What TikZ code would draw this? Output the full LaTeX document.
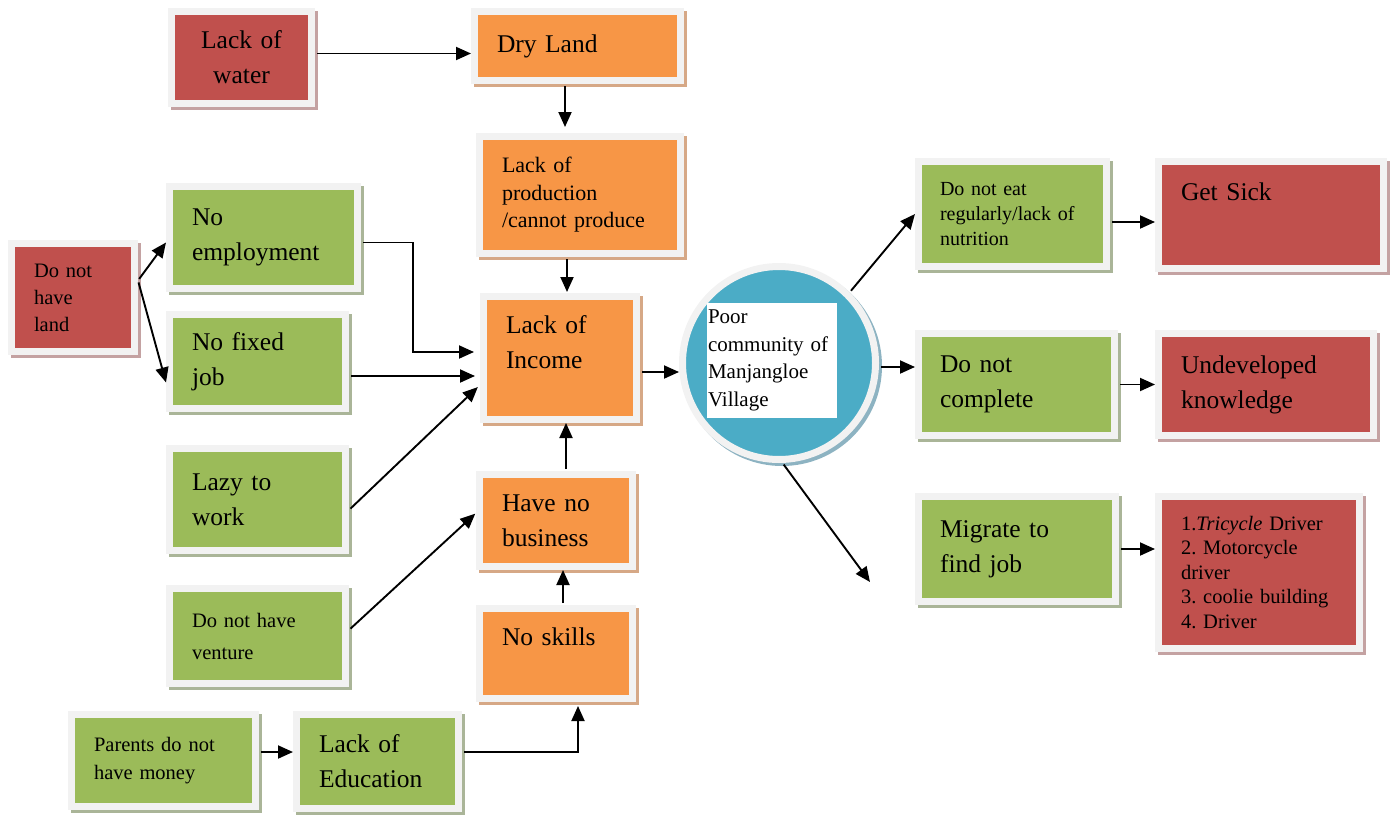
\documentclass[tikz,border=0pt]{standalone}
\usepackage{fontspec}
\setmainfont{Liberation Serif}
\usetikzlibrary{arrows.meta, positioning, calc}
\frenchspacing

\definecolor{boxred}{HTML}{C0504D}
\definecolor{boxgreen}{HTML}{9BBB59}
\definecolor{boxorange}{HTML}{F79646}
\definecolor{boxblue}{HTML}{4BACC6}
\definecolor{frame}{HTML}{F2F2F2}
\definecolor{shred}{HTML}{C4A2A2}
\definecolor{shgreen}{HTML}{AAB598}
\definecolor{shorange}{HTML}{D6A886}
\definecolor{shblue}{HTML}{8DB3C2}

\tikzset{
    box/.style={rectangle, draw=frame, line width=7pt, inner sep=0pt, align=left},
    rbox/.style={box, fill=boxred, preaction={draw=shred, line width=7pt, transform canvas={shift={(3pt,-3pt)}}}},
    gbox/.style={box, fill=boxgreen, preaction={draw=shgreen, line width=7pt, transform canvas={shift={(3pt,-3pt)}}}},
    obox/.style={box, fill=boxorange, preaction={draw=shorange, line width=7pt, transform canvas={shift={(3pt,-3pt)}}}},
    big/.style={font=\fontsize{25.5}{35}\selectfont},
    small/.style={font=\fontsize{20.5}{27}\selectfont},
    link/.style={line width=1.9pt, shorten <=2pt, -{Triangle[length=15pt,width=13pt]}},
}

\begin{document}
\begin{tikzpicture}[x=1pt, y=-1pt]
    \useasboundingbox (0,0) rectangle (1394,816);

    % causes
    \node[rbox, big, align=center, text width=113pt, minimum width=140pt, minimum height=92pt] (water) at (241.5,57.5) {Lack of\\water};
    \node[obox, big, text width=161pt, minimum width=206pt, minimum height=69pt] (dry) at (577.5,46) {Dry Land};
    \node[obox, font=\fontsize{22}{27.5}\selectfont, text width=156pt, minimum width=201pt, minimum height=117pt] (prod) at (580,195) {Lack of\\production\\/cannot produce};
    \node[rbox, small, text width=78pt, minimum width=123pt, minimum height=108pt] (land) at (73,297.5) {Do not\\have\\land};
    \node[gbox, big, text width=143pt, minimum width=188pt, minimum height=102pt] (noemp) at (263.5,237.5) {No\\employment};
    \node[gbox, big, text width=131pt, minimum width=176pt, minimum height=94pt] (nofix) at (257.5,361.5) {No fixed\\job};
    \node[obox, big, text width=108pt, minimum width=153pt, minimum height=123pt] (income) at (560,358) {Lack of\\Income\\[-4pt]\mbox{}};
    \node[gbox, big, text width=131pt, minimum width=176pt, minimum height=102pt] (lazy) at (257.5,499.5) {Lazy to\\work};
    \node[obox, big, text width=108pt, minimum width=153pt, minimum height=92pt] (business) at (556,520.5) {Have no\\business};
    \node[gbox, font=\fontsize{20.5}{32}\selectfont, text width=131pt, minimum width=176pt, minimum height=95pt] (venture) at (257.5,636) {Do not have\\venture};
    \node[obox, big, text width=108pt, minimum width=153pt, minimum height=90pt] (skills) at (556,653.5) {No skills\\[-2pt]\mbox{}};
    \node[gbox, font=\fontsize{20.5}{28}\selectfont, text width=139pt, minimum width=184pt, minimum height=92pt] (parents) at (163.5,760.5) {Parents do not\\have money};
    \node[gbox, big, text width=117pt, minimum width=162pt, minimum height=94pt] (edu) at (377.5,761.5) {Lack of\\Education};

    % centre
    \node[circle, fill=boxblue, draw=frame, line width=7pt, inner sep=0pt, minimum size=193pt,
          preaction={draw=shblue, line width=7pt, transform canvas={shift={(3pt,-3pt)}}}] (poor) at (779,363) {};
    \node[fill=white, inner sep=1pt, text width=128pt, minimum height=115pt, align=left, font=\fontsize{21}{27.5}\selectfont] (poortxt) at (772,360.5) {Poor\\community of\\Manjangloe\\Village};
    \coordinate (away) at (870,582);

    % effects
    \node[gbox, font=\fontsize{20}{25}\selectfont, text width=145pt, minimum width=188pt, minimum height=105pt] (eat) at (1012.5,214) {Do not eat\\regularly/lack of\\nutrition};
    \node[rbox, big, text width=180pt, minimum width=225pt, minimum height=107pt] (sick) at (1271,215) {Get Sick\\[11pt]\mbox{}};
    \node[gbox, big, text width=153pt, minimum width=196pt, minimum height=102pt] (complete) at (1016.5,384.5) {Do not\\complete};
    \node[rbox, big, text width=170pt, minimum width=215pt, minimum height=102pt] (undev) at (1266,384.5) {Undeveloped\\knowledge};
    \node[gbox, big, text width=154pt, minimum width=197pt, minimum height=105pt] (migrate) at (1017,549) {Migrate to\\find job};
    \node[rbox, font=\fontsize{20.5}{24.5}\selectfont, text width=156pt, minimum width=201pt, minimum height=152pt] (jobs) at (1259,572.5) {1.\textit{Tricycle} Driver\\2. Motorcycle\\driver\\3. coolie building\\4. Driver};

    \draw[link] ([yshift=4pt]water.east) -- ([yshift=4pt]water.east -| dry.west);
    \draw[link, shorten >=6pt] ([xshift=-12.5pt]dry.south) -- ([xshift=-12.5pt]dry.south |- prod.north);
    \draw[link, shorten >=1pt] ([xshift=-13pt]prod.south) -- ([xshift=-13pt]prod.south |- income.north);
    \draw[link] ([yshift=17pt]land.east) -- ([yshift=-5pt]noemp.west);
    \draw[link] ([yshift=17pt]land.east) -- ([yshift=-21pt]nofix.west);
    \draw[link, shorten >=6pt] ([yshift=-5pt]noemp.east) -- ++(52,0) |- ([yshift=6pt]income.west);
    \draw[link, shorten >=5pt] ([yshift=-14.5pt]nofix.east) -- ([yshift=-14.5pt]nofix.east -| income.west);
    \draw[link, shorten >=3pt] ([yshift=-10.5pt]lazy.east) -- ([yshift=-27pt]income.west);
    \draw[link, shorten >=1pt] ([yshift=6pt]venture.east) -- ([yshift=7.5pt]business.west);
    \draw[link] ([xshift=10pt]business.north) -- ([xshift=10pt]business.north |- income.south);
    \draw[link] ([xshift=7pt]skills.north) -- ([xshift=7pt]skills.north |- business.south);
    \draw[link] ([yshift=8.5pt]parents.east) -- ([yshift=8.5pt]parents.east -| edu.west);
    \draw[link, shorten >=4pt] ([yshift=9.5pt]edu.east) -| ([xshift=22pt]skills.south);
    \draw[link] ([yshift=-14pt]income.east) -- ([yshift=-14pt]income.east -| poor.west);
    \draw[link] (poor.45) -- (eat.west);
    \draw[link] ([yshift=-4pt]poor.east) -- ([yshift=-4pt]poor.east -| complete.west);
    \draw[link] (poor.-88) -- (away);
    \draw[link] ([yshift=-8pt]eat.east) -- ([yshift=-8pt]eat.east -| sick.west);
    \draw[link] (complete.east) -- (complete.east -| undev.west);
    \draw[link] (migrate.east) -- (migrate.east -| jobs.west);
\end{tikzpicture}
\end{document}
